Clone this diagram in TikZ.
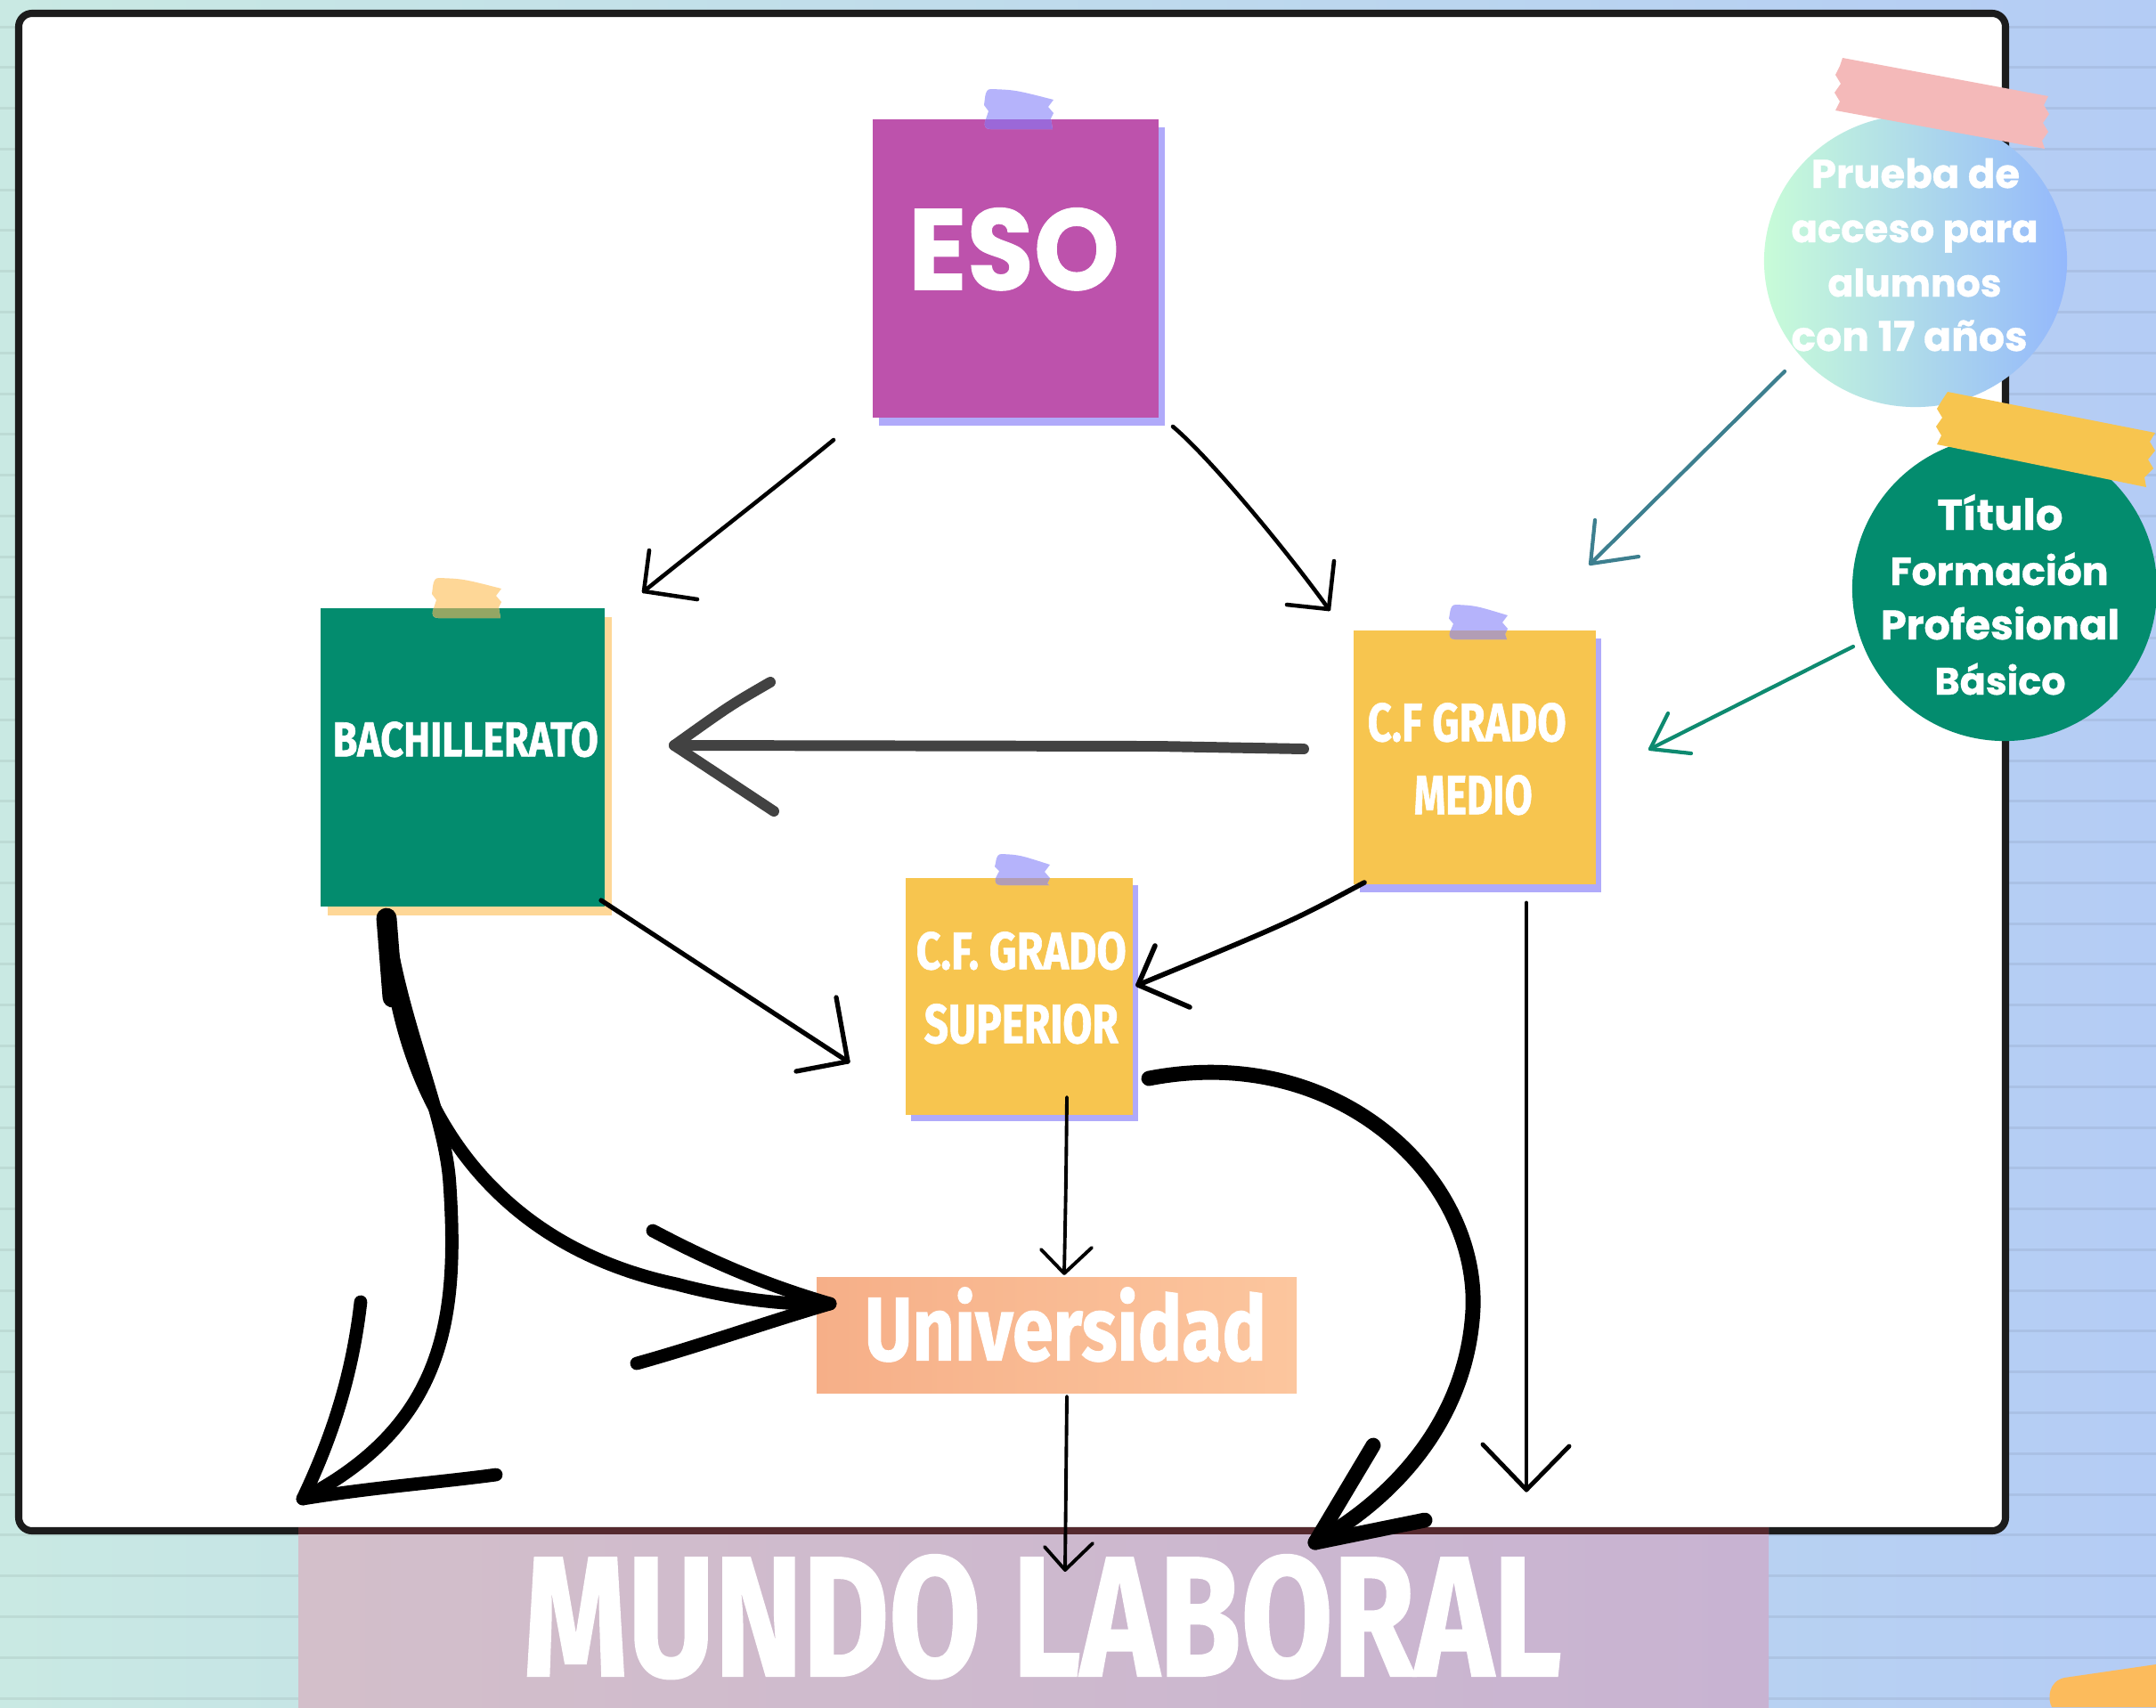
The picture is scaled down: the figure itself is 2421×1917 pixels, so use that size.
\documentclass[tikz,border=0pt]{standalone}
\usepackage{fontspec}
\usepackage{graphicx}
\usetikzlibrary{fit}
\setmainfont{Fira Sans}
\newfontfamily\condf{Fira Sans}[BoldFeatures={FakeBold=1.2}]
\newfontfamily\roundf{Poppins}[BoldFeatures={FakeBold=0.8}]
\definecolor{bgmint}{HTML}{C9E9E3}
\definecolor{bgblue}{HTML}{B4CCF5}
\definecolor{boardline}{HTML}{1C1C1C}
\definecolor{esoc}{HTML}{BD52AC}
\definecolor{lav}{HTML}{B0AAFA}
\definecolor{lavtape}{HTML}{B5B3FB}
\definecolor{greenc}{HTML}{038C6E}
\definecolor{peach}{HTML}{FED797}
\definecolor{yellowc}{HTML}{F7C54F}
\definecolor{univl}{HTML}{F6AF88}
\definecolor{univr}{HTML}{FCC69E}
\definecolor{bandl}{HTML}{D3BFCA}
\definecolor{bandr}{HTML}{C8B3D2}
\definecolor{bandtop}{HTML}{55292E}
\definecolor{circmint}{HTML}{C8FCD8}
\definecolor{circblue}{HTML}{94B8FC}
\definecolor{pinktape}{HTML}{F4B9B9}
\definecolor{orangetape}{HTML}{FCBB5C}
\definecolor{tealc}{HTML}{3D7F8F}
\definecolor{arrgreen}{HTML}{0E8A70}
\definecolor{arrgray}{HTML}{424242}
\definecolor{ovlav}{HTML}{9B68D8}
\definecolor{ovolive}{HTML}{93A664}
\definecolor{ovyel}{HTML}{B29DB5}
\newcommand\tapepath[4]{({#1+8},{#2}) .. controls ({#1+0.45*#3},{#2+1}) .. ({#1+#3},{#2+12}) -- ({#1+#3-6},{#2+20}) -- ({#1+#3},{#2+27}) -- ({#1+#3-3},{#2+33}) -- ({#1+#3-1},{#2+#4}) -- ({#1+7},{#2+#4}) .. controls ({#1+1},{#2+#4}) and ({#1},{#2+#4-4}) .. ({#1+1},{#2+#4-8}) -- ({#1+5},{#2+0.55*#4}) -- ({#1},{#2+0.4*#4}) -- ({#1+1},{#2+10}) .. controls ({#1+2},{#2+2}) and ({#1+4},{#2}) .. ({#1+8},{#2}) -- cycle}
\tikzset{
  notebox/.style={inner sep=0pt, draw=none},
  lbl/.style={inner sep=0pt, text=white},
  bgl/.style={line width=0.85pt, draw=black, draw opacity=0.06},
  arr/.style={draw=black, line cap=round, line join=round},
  thinarr/.style={arr, line width=1.3pt},
  bigarr/.style={arr, line width=4.2pt},
}
\begin{document}
\begin{tikzpicture}[x=0.01cm,y=-0.01cm]
\useasboundingbox (0,0) rectangle (2421,1917);
% background
\shade[left color=bgmint, right color=bgblue] (0,0) rectangle (2421,1917);
\foreach \i in {0,...,41} \draw[bgl] (0,{30+45.78*\i}) -- (2421,{30+45.78*\i});
% board
\draw[line width=2.3pt, draw=boardline, fill=white, rounded corners=0.15cm] (21,15) rectangle (2252,1719);
% mundo laboral band
\node[notebox, fit={(335,1715)(1986,1917)}, left color=bandl, right color=bandr] (mundo) {};
\fill[bandtop] (335,1715) rectangle (1986,1723);
% ESO note
\fill[lav] (987,143) rectangle (1308,478);
\node[notebox, fit={(980,134)(1301,469)}, fill=esoc] (eso) {};
\fill[lavtape] \tapepath{1105}{100}{78}{45};
\begin{scope}\clip (980,134) rectangle (1301,469); \fill[ovlav] \tapepath{1105}{100}{78}{45}; \end{scope}
% BACHILLERATO note
\fill[peach] (368,693) rectangle (687,1028);
\node[notebox, fit={(360,683)(679,1018)}, fill=greenc] (bach) {};
\fill[peach] \tapepath{485}{649}{78}{45};
\begin{scope}\clip (360,683) rectangle (679,1018); \fill[ovolive] \tapepath{485}{649}{78}{45}; \end{scope}
% CF GRADO MEDIO note
\fill[lav] (1527,717) rectangle (1798,1002);
\node[notebox, fit={(1520,708)(1792,993)}, fill=yellowc] (cfgm) {};
\fill[lavtape] \tapepath{1627}{679}{66}{39};
\begin{scope}\clip (1520,708) rectangle (1792,993); \fill[ovyel] \tapepath{1627}{679}{66}{39}; \end{scope}
% CF GRADO SUPERIOR note
\fill[lav] (1023,994) rectangle (1278,1259);
\node[notebox, fit={(1017,986)(1272,1252)}, fill=yellowc] (cfgs) {};
\fill[lavtape] \tapepath{1117}{959}{62}{35};
\begin{scope}\clip (1017,986) rectangle (1272,1252); \fill[ovyel] \tapepath{1117}{959}{62}{35}; \end{scope}
% Universidad
\node[notebox, fit={(917,1434)(1456,1564)}, left color=univl, right color=univr] (univ) {};
% circle 1
\shade[left color=circmint, right color=circblue] (2151,293) ellipse [x radius=1.70cm, y radius=1.64cm];
\node[notebox, minimum width=3.4cm, minimum height=3.28cm] (prueba) at (2151,293) {};
\fill[pinktape] (2069,65) -- (2300,108) -- (2295,118) -- (2301,128) -- (2294,138) -- (2300,148) -- (2293,158) -- (2296,167) -- (2061,124) -- (2066,114) -- (2060,104) -- (2067,94) -- (2061,84) -- (2066,74) -- cycle;
% circle 2
\node[notebox, circle, minimum size=3.42cm, fill=greenc] (titulo) at (2251,661) {};
\fill[yellowc] (2187,440) -- (2420,486) -- (2414,496) -- (2420,506) -- (2412,516) -- (2418,526) -- (2408,536) -- (2410,547) -- (2175,499) -- (2180,489) -- (2174,479) -- (2181,469) -- (2175,459) -- (2181,449) -- cycle;
% orange tape corner
\fill[orangetape] (2421,1869) -- (2318,1884) .. controls (2300,1888) and (2299,1908) .. (2304,1917) -- (2421,1917) -- cycle;
% texts
\node[lbl, anchor=south west] (esot) at (1019,327) {\resizebox{2.37cm}{0.92cm}{\roundf\bfseries ESO}};
\node[lbl, anchor=south west] (bacht) at (373,851) {\resizebox{2.98cm}{0.39cm}{\condf\bfseries BACHILLERATO}};
\node[lbl, anchor=south west] (cfgmt1) at (1535,834) {\resizebox{2.23cm}{0.43cm}{\condf\bfseries C.F GRADO}};
\node[lbl, anchor=south west] (cfgmt2) at (1587,916) {\resizebox{1.33cm}{0.44cm}{\condf\bfseries MEDIO}};
\node[lbl, anchor=south west] (cfgst1) at (1028,1090) {\resizebox{2.36cm}{0.42cm}{\condf\bfseries C.F. GRADO}};
\node[lbl, anchor=south west] (cfgst2) at (1037,1173) {\resizebox{2.18cm}{0.44cm}{\condf\bfseries SUPERIOR}};
\node[lbl, anchor=south west] (univt) at (970,1530) {\resizebox{4.51cm}{0.82cm}{\condf\bfseries Universidad}};
\node[lbl, anchor=south west] (mundot) at (587,1886) {\resizebox{11.65cm}{1.36cm}{\condf\bfseries MUNDO LABORAL}};
\node[lbl, anchor=base] (c1a) at (2151,211) {\resizebox{2.34cm}{!}{\roundf\bfseries Prueba de}};
\node[lbl, anchor=base] (c1b) at (2150,272) {\resizebox{2.77cm}{!}{\roundf\bfseries acceso para}};
\node[lbl, anchor=base] (c1c) at (2150,333) {\resizebox{1.95cm}{!}{\roundf\bfseries alumnos}};
\node[lbl, anchor=base] (c1d) at (2144,394) {\resizebox{2.65cm}{!}{\roundf\bfseries con 17 años}};
\node[lbl, anchor=base] (c2a) at (2246,595) {\resizebox{1.41cm}{!}{\roundf\bfseries Título}};
\node[lbl, anchor=base] (c2b) at (2245,657) {\resizebox{2.45cm}{!}{\roundf\bfseries Formación}};
\node[lbl, anchor=base] (c2c) at (2246,718) {\resizebox{2.68cm}{!}{\roundf\bfseries Profesional}};
\node[lbl, anchor=base] (c2d) at (2246,780) {\resizebox{1.47cm}{!}{\roundf\bfseries Básico}};
% connector end points
\coordinate (esoL) at (936,494);   \coordinate (bachT) at (723,664);
\coordinate (esoR) at (1317,479);  \coordinate (cfgmT) at (1492,684);
\coordinate (cfgmW) at (1464,841); \coordinate (bachE) at (757,837);
\coordinate (bachSE) at (675,1011);\coordinate (cfgsW) at (952,1192);
\coordinate (cfgmSW) at (1532,991);\coordinate (cfgsE) at (1278,1106);
\coordinate (cfgsS) at (1198,1232);\coordinate (univN) at (1195,1430);
\coordinate (univS) at (1198,1568);\coordinate (mundoN) at (1196,1763);
\coordinate (cfgmS) at (1714,1014);\coordinate (mundoR) at (1714,1673);
\coordinate (cfgsE2) at (1290,1211);\coordinate (mundoC) at (1477,1732);
\coordinate (bachS) at (434,1031); \coordinate (univW) at (932,1464);
\coordinate (mundoL) at (340,1683);
\coordinate (pruebaSW) at (2004,417); \coordinate (cfgmNE) at (1786,633);
\coordinate (tituloW) at (2081,726);  \coordinate (cfgmE) at (1853,841);
% ESO -> BACHILLERATO
\draw[thinarr] (esoL) .. controls (870,548) and (790,610) .. (bachT);
\draw[thinarr] (729,618) -- (bachT) -- (783,673);
% ESO -> CF GRADO MEDIO
\draw[thinarr] (esoR) .. controls (1360,515) and (1450,625) .. (cfgmT);
\draw[thinarr] (1498,630) -- (cfgmT) -- (1445,679);
% CF GRADO MEDIO -> BACHILLERATO
\draw[arr, draw=arrgray, line width=3.4pt] (cfgmW) -- (1300,838) -- (bachE);
\draw[arr, draw=arrgray, line width=3.4pt] (865,766) .. controls (820,792) .. (bachE) .. controls (810,872) .. (869,911);
% BACHILLERATO -> CF GRADO SUPERIOR
\draw[arr, line width=1.5pt] (bachSE) -- (cfgsW);
\draw[arr, line width=1.5pt] (939,1120) -- (cfgsW) -- (894,1203);
% CF GRADO MEDIO -> CF GRADO SUPERIOR
\draw[arr, line width=1.6pt] (cfgmSW) .. controls (1450,1035) .. (cfgsE);
\draw[arr, line width=1.6pt] (1297,1062) -- (cfgsE) -- (1336,1131);
% CF GRADO SUPERIOR -> Universidad
\draw[arr, line width=1.1pt] (cfgsS) .. controls (1197,1330) .. (univN);
\draw[arr, line width=1.1pt] (1169,1403) -- (univN) -- (1226,1401);
% Universidad -> MUNDO LABORAL
\draw[arr, line width=1.1pt] (univS) -- (mundoN);
\draw[arr, line width=1.1pt] (1173,1737) -- (mundoN) -- (1227,1733);
% CF GRADO MEDIO -> MUNDO LABORAL
\draw[arr, line width=1.4pt] (cfgmS) -- (mundoR);
\draw[arr, line width=1.4pt] (1665,1622) -- (mundoR) -- (1762,1624);
% CF GRADO SUPERIOR -> MUNDO LABORAL (big curve)
\draw[arr, line width=4.8pt] (cfgsE2) .. controls (1500,1170) and (1660,1320) .. (1654,1470) .. controls (1648,1590) and (1570,1680) .. (mundoC);
\draw[arr, line width=4.8pt] (1542,1623) -- (mundoC) -- (1600,1707);
% BACHILLERATO -> Universidad (big curve)
\draw[bigarr] (bachS) .. controls (445,1250) and (560,1400) .. (760,1442) .. controls (820,1458) and (880,1466) .. (univW);
\draw[bigarr] (733,1382) .. controls (790,1412) and (850,1440) .. (univW) .. controls (860,1485) and (790,1510) .. (715,1531);
% BACHILLERATO -> MUNDO LABORAL (big curve, left)
\draw[bigarr] (bachS) .. controls (450,1150) and (500,1250) .. (505,1330) .. controls (515,1480) and (500,1600) .. (mundoL);
\draw[bigarr] (405,1462) .. controls (395,1550) and (370,1620) .. (mundoL) .. controls (420,1670) and (490,1665) .. (557,1656);
\draw[arr, line width=6.5pt] (bachS) -- (441,1120);
% circle arrows
\draw[arr, draw=tealc, line width=1.2pt] (pruebaSW) -- (cfgmNE);
\draw[arr, draw=tealc, line width=1.2pt] (1791,584) -- (cfgmNE) -- (1840,625);
\draw[arr, draw=arrgreen, line width=1.2pt] (tituloW) -- (cfgmE);
\draw[arr, draw=arrgreen, line width=1.2pt] (1873,801) -- (cfgmE) -- (1899,846);
\end{tikzpicture}
\end{document}
